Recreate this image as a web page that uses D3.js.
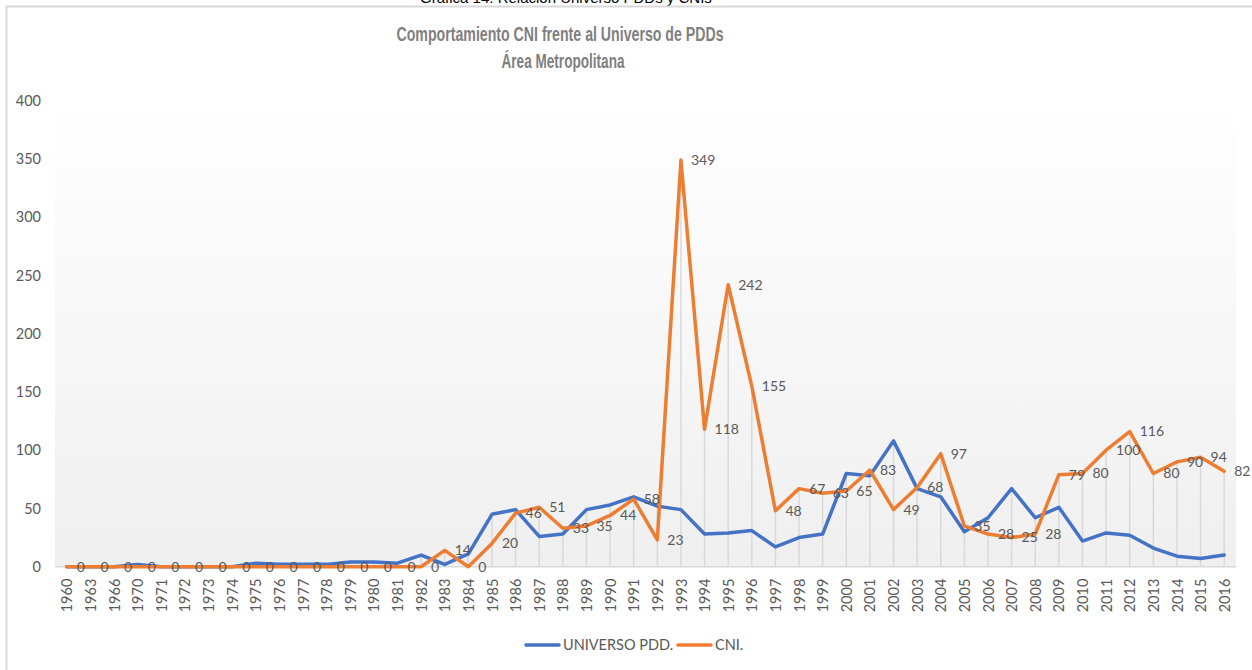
<!DOCTYPE html>
<html>
<head>
<meta charset="utf-8">
<script src="https://cdn.jsdelivr.net/npm/d3@7"></script>
<style>
  body { margin: 0; background: #fff; }
  svg { display: block; }
</style>
</head>
<body>
<svg id="chart" width="1252" height="670"></svg>
<script>
// data
let years = ["1960", "1963", "1966", "1970", "1971", "1972", "1973", "1974", "1975", "1976",
  "1977", "1978", "1979", "1980", "1981", "1982", "1983", "1984", "1985", "1986",
  "1987", "1988", "1989", "1990", "1991", "1992", "1993", "1994", "1995", "1996",
  "1997", "1998", "1999", "2000", "2001", "2002", "2003", "2004", "2005", "2006",
  "2007", "2008", "2009", "2010", "2011", "2012", "2013", "2014", "2015", "2016"];

let universoPdd = [0, 0, 0, 2, 0, 0, 0, 0, 3, 2,
  2, 2, 4, 4, 3, 10, 2, 11, 45, 49,
  26, 28, 49, 53, 60, 52, 49, 28, 29, 31,
  17, 25, 28, 80, 78, 108, 67, 60, 30, 42,
  67, 42, 51, 22, 29, 27, 16, 9, 7, 10];

let cni = [0, 0, 0, 0, 0, 0, 0, 0, 0, 0,
  0, 0, 0, 0, 0, 0, 14, 0, 20, 46,
  51, 33, 35, 44, 58, 23, 349, 118, 242, 155,
  48, 67, 63, 65, 83, 49, 68, 97, 35, 28,
  25, 28, 79, 80, 100, 116, 80, 90, 94, 82];

let yTicks = [0, 50, 100, 150, 200, 250, 300, 350, 400];

let seriesNames = ["UNIVERSO PDD.", "CNI."];
let seriesColors = ["#4472c4", "#ed7d31"];

let svg = d3.select("#chart");
let width = +svg.attr("width");
let height = +svg.attr("height");

let plotLeft = 55, plotRight = 1236, plotTop = 100.7, plotBottom = 566.7;
let labelFont = "Lato, 'Open Sans', sans-serif";
let labelSize = 14;

let x = d3.scalePoint()
    .domain(years)
    .range([plotLeft, plotRight])
    .padding(0.5);

let y = d3.scaleLinear()
    .domain([0, 400])
    .range([plotBottom, plotTop]);

// caption of the figure, mostly cut off at the top
svg.append("text")
    .attr("x", 566)
    .attr("y", 3)
    .attr("text-anchor", "middle")
    .attr("font-family", "'Liberation Sans', Arial, sans-serif")
    .attr("font-size", 15)
    .attr("fill", "#000")
    .text("Gráfica 14. Relación Universo PDDs y CNIs");

// chart frame
svg.append("path")
    .attr("d", `M6.5,${height} V6.5 H${width}`)
    .attr("fill", "none")
    .attr("stroke", "#d9d9d9")
    .attr("stroke-width", 2);

// plot background gradient
let grad = svg.append("defs").append("linearGradient")
    .attr("id", "bg")
    .attr("x1", 0).attr("y1", 0).attr("x2", 0).attr("y2", 1);
grad.append("stop").attr("offset", "0%").attr("stop-color", "#ffffff");
grad.append("stop").attr("offset", "100%").attr("stop-color", "#efefef");

svg.append("rect")
    .attr("x", plotLeft)
    .attr("y", plotTop)
    .attr("width", plotRight - plotLeft)
    .attr("height", plotBottom - plotTop)
    .attr("fill", "url(#bg)");

// title
let title = svg.append("text")
    .attr("text-anchor", "middle")
    .attr("font-family", "'Liberation Sans Narrow', 'Arial Narrow', 'Liberation Sans', sans-serif")
    .attr("font-weight", "bold")
    .attr("font-size", 21)
    .attr("fill", "#7f7f7f");
title.append("tspan")
    .attr("x", 560).attr("y", 41)
    .attr("textLength", 327).attr("lengthAdjust", "spacingAndGlyphs")
    .text("Comportamiento CNI frente al Universo de PDDs");
title.append("tspan")
    .attr("x", 563).attr("y", 68)
    .attr("textLength", 123).attr("lengthAdjust", "spacingAndGlyphs")
    .text("Área Metropolitana");

// drop lines
svg.append("g")
    .selectAll("line")
    .data(years)
    .join("line")
    .attr("x1", d => x(d))
    .attr("x2", d => x(d))
    .attr("y1", (d, i) => y(Math.max(universoPdd[i], cni[i])))
    .attr("y2", y(0))
    .attr("stroke", "#d9d9d9")
    .attr("stroke-width", 1.5);

// baseline
svg.append("line")
    .attr("x1", plotLeft).attr("x2", plotRight)
    .attr("y1", y(0)).attr("y2", y(0))
    .attr("stroke", "#d9d9d9")
    .attr("stroke-width", 1.5);

// y axis
let yAxis = svg.append("g")
    .attr("transform", `translate(${plotLeft - 14},0)`)
    .call(d3.axisLeft(y).tickValues(yTicks).tickSize(0).tickPadding(0));
yAxis.select(".domain").remove();
yAxis.selectAll("text")
    .attr("font-family", labelFont)
    .attr("font-size", labelSize + 0.5)
    .attr("fill", "#595959");

// x axis
let xAxis = svg.append("g")
    .attr("transform", `translate(0,${plotBottom})`)
    .call(d3.axisBottom(x).tickSize(0));
xAxis.select(".domain").remove();
xAxis.selectAll("text")
    .attr("font-family", labelFont)
    .attr("font-size", labelSize + 0.5)
    .attr("fill", "#595959")
    .attr("text-anchor", "end")
    .attr("transform", "rotate(-90)")
    .attr("x", -12)
    .attr("y", 0)
    .attr("dy", "0.35em");

// lines
let line = d3.line()
    .x((d, i) => x(years[i]))
    .y(d => y(d));

[universoPdd, cni].forEach((values, k) => {
  svg.append("path")
      .datum(values)
      .attr("d", line)
      .attr("fill", "none")
      .attr("stroke", seriesColors[k])
      .attr("stroke-width", 3.5)
      .attr("stroke-linejoin", "round")
      .attr("stroke-linecap", "round");
});

// data labels for CNI, placed right of each point
svg.append("g")
    .selectAll("text")
    .data(cni)
    .join("text")
    .attr("x", (d, i) => x(years[i]) + 10)
    .attr("y", d => y(d))
    .attr("dy", "0.35em")
    .attr("font-family", labelFont)
    .attr("font-size", labelSize)
    .attr("fill", "#595959")
    .text(d => d);

// legend
let legend = svg.append("g")
    .attr("transform", "translate(526,645)");
let items = [{ x: 0 }, { x: 152 }];
items.forEach((it, k) => {
  legend.append("line")
      .attr("x1", it.x).attr("x2", it.x + 33)
      .attr("y1", 0).attr("y2", 0)
      .attr("stroke", seriesColors[k])
      .attr("stroke-width", 3.5)
      .attr("stroke-linecap", "round");
  legend.append("text")
      .attr("x", it.x + 37)
      .attr("y", 0)
      .attr("dy", "0.35em")
      .attr("font-family", labelFont)
      .attr("font-size", labelSize + 0.5)
      .attr("fill", "#595959")
      .text(seriesNames[k]);
});
</script>
</body>
</html>
